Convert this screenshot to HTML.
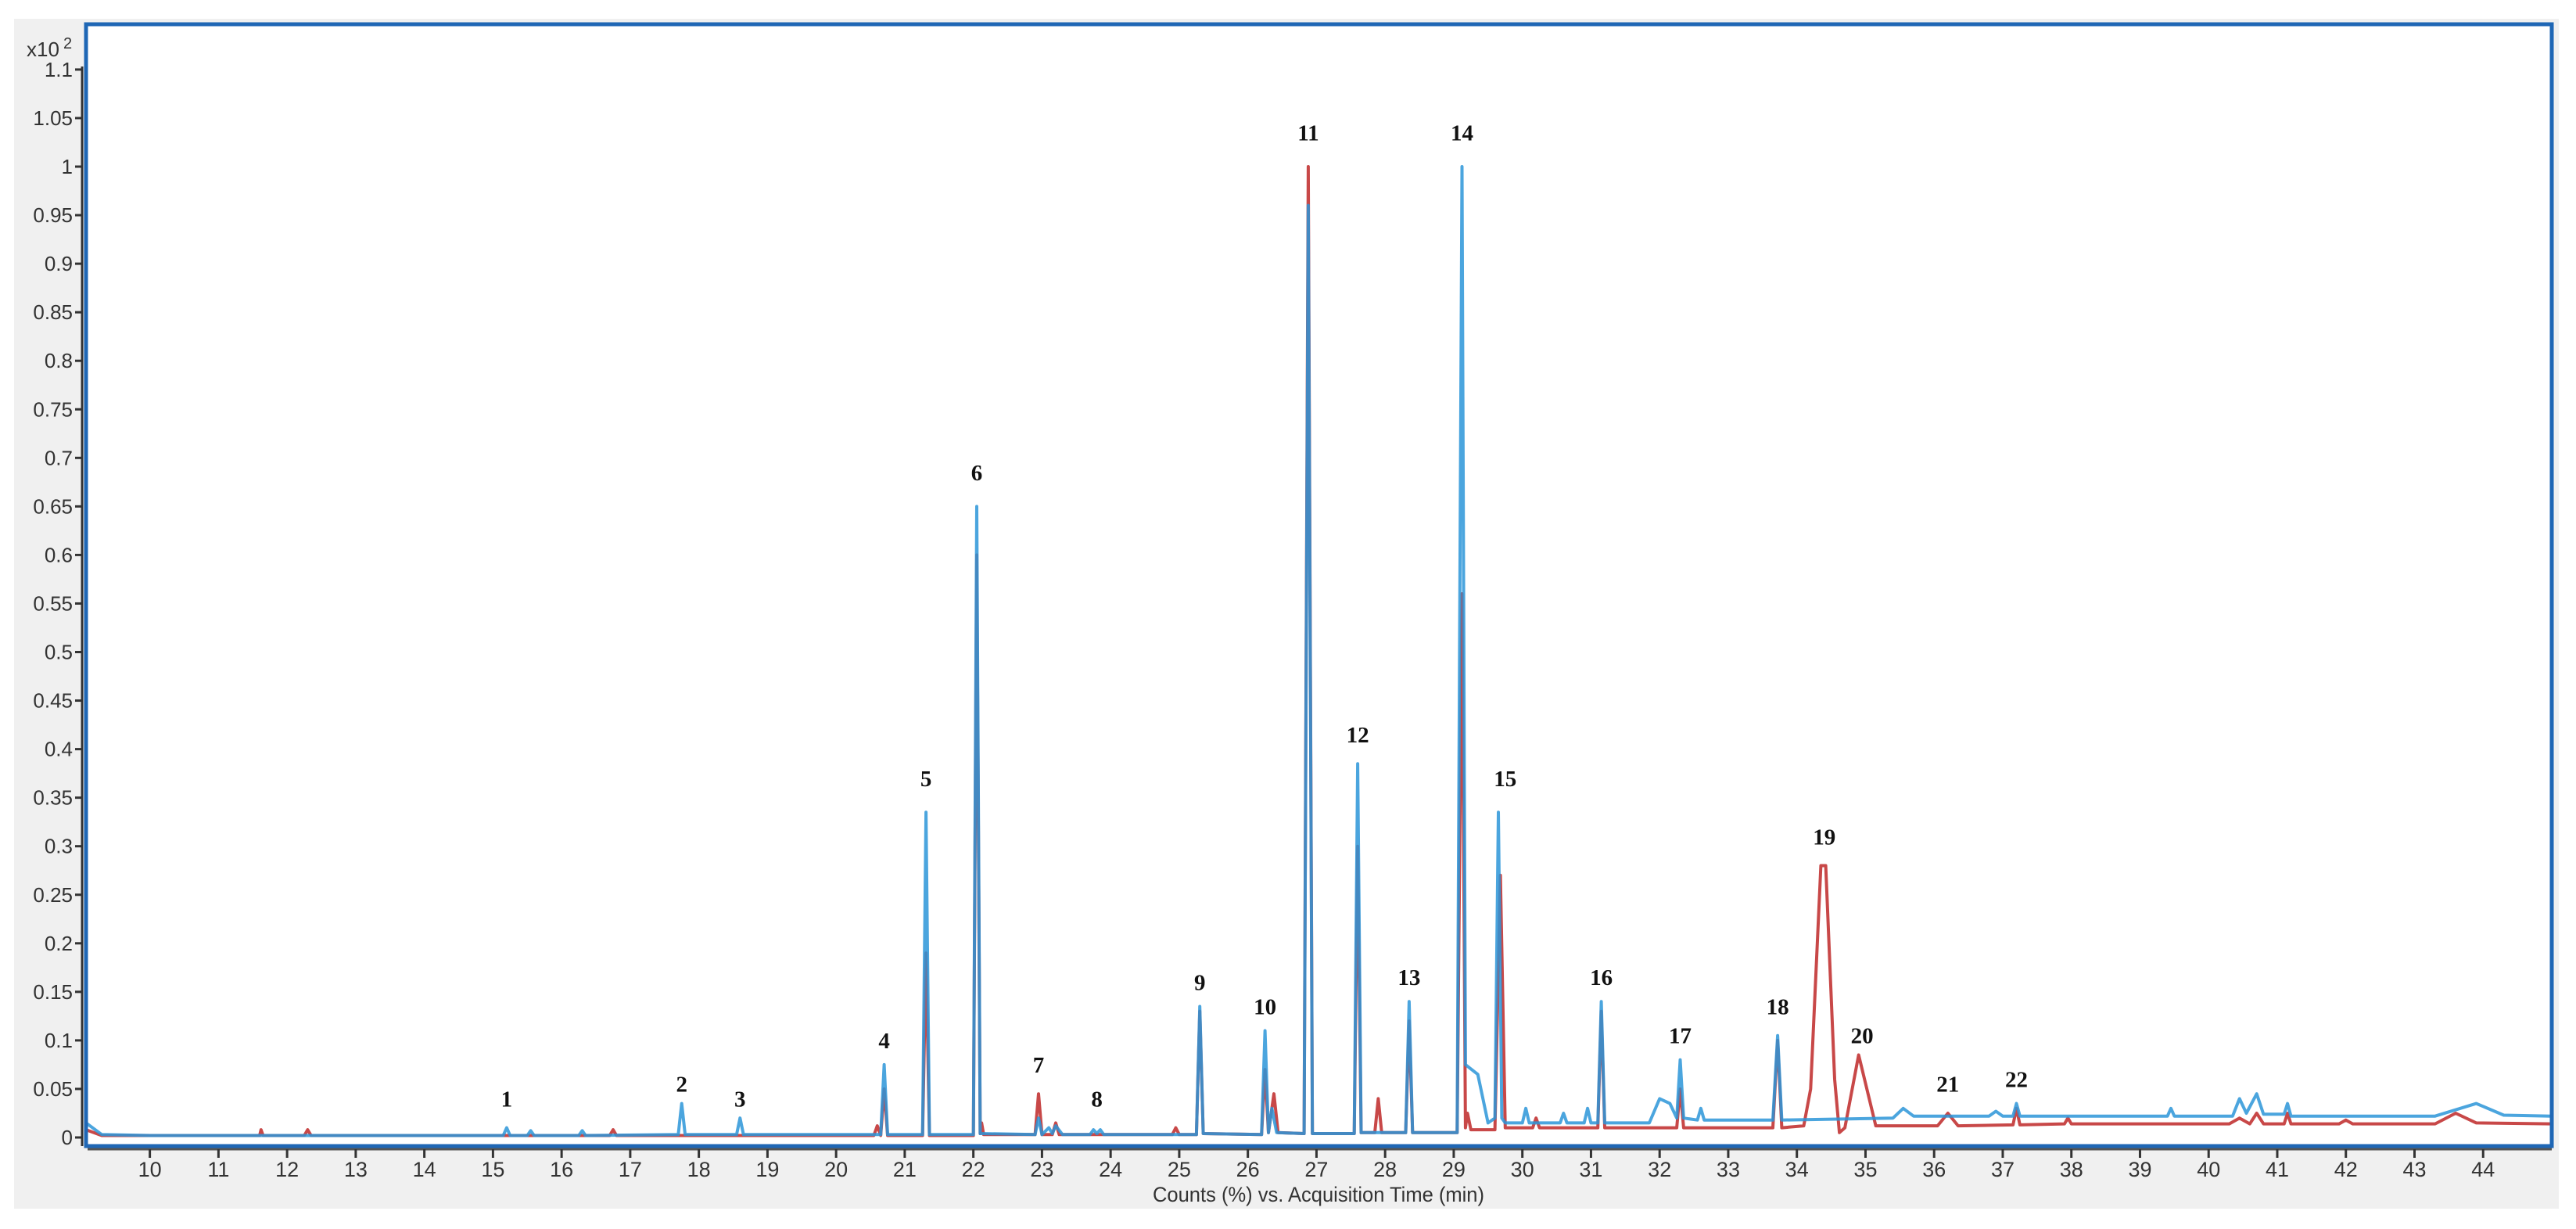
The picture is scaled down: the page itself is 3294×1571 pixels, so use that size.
<!DOCTYPE html>
<html><head><meta charset="utf-8"><style>
html,body{margin:0;padding:0;background:#fff;width:3294px;height:1571px;overflow:hidden}
svg{display:block}
</style></head><body>
<svg id="chart" width="3294" height="1571" viewBox="0 0 3294 1571" xmlns="http://www.w3.org/2000/svg">
<rect x="18" y="24" width="3254" height="1521" fill="#f0f0f0"/>
<rect x="110" y="31" width="3153" height="1434" fill="#fff"/>
<g id="grid"></g>
<g id="series"></g>
<rect x="110" y="31" width="3153" height="1434" fill="none" stroke="#1f67b5" stroke-width="5"/>
<line x1="112" y1="1469" x2="3263" y2="1469" stroke="#555" stroke-width="3"/>
<line x1="105" y1="85" x2="105" y2="1465" stroke="#333" stroke-width="3"/>
<g id="yticks"></g>
<g id="xticks"></g>
<g id="labels"></g>
<text x="34" y="72" font-family="Liberation Sans, sans-serif" font-size="26" fill="#333">x10</text>
<text x="81" y="62" font-family="Liberation Sans, sans-serif" font-size="20" fill="#333">2</text>
<text x="1686" y="1536" text-anchor="middle" font-family="Liberation Sans, sans-serif" font-size="27" fill="#333" textLength="424" lengthAdjust="spacingAndGlyphs">Counts (%) vs. Acquisition Time (min)</text>
</svg>
<script>
const yTickValues=[0,0.05,0.1,0.15,0.2,0.25,0.3,0.35,0.4,0.45,0.5,0.55,0.6,0.65,0.7,0.75,0.8,0.85,0.9,0.95,1,1.05,1.1];
const yTickLabels=["0","0.05","0.1","0.15","0.2","0.25","0.3","0.35","0.4","0.45","0.5","0.55","0.6","0.65","0.7","0.75","0.8","0.85","0.9","0.95","1","1.05","1.1"];
const xTickValues=[10,11,12,13,14,15,16,17,18,19,20,21,22,23,24,25,26,27,28,29,30,31,32,33,34,35,36,37,38,39,40,41,42,43,44];
const blueTimes=[9.07,9.3,10,15.15,15.2,15.25,15.5,15.55,15.6,16.25,16.3,16.35,17.7,17.75,17.8,18.55,18.6,18.65,20.65,20.7,20.75,21.26,21.31,21.36,22.0,22.05,22.1,22.9,22.95,23.0,23.1,23.15,23.2,23.3,23.7,23.75,23.8,23.85,23.9,25.25,25.3,25.35,26.2,26.25,26.3,26.35,26.42,26.82,26.88,26.94,27.55,27.6,27.65,28.3,28.35,28.4,29.05,29.12,29.17,29.35,29.5,29.6,29.65,29.7,29.75,30.0,30.05,30.1,30.55,30.6,30.65,30.9,30.95,31.0,31.1,31.15,31.2,31.85,32.0,32.15,32.25,32.3,32.35,32.55,32.6,32.65,33.65,33.72,33.78,35.4,35.55,35.7,36.8,36.9,37.0,37.15,37.2,37.25,39.4,39.45,39.5,40.35,40.45,40.55,40.7,40.8,41.1,41.15,41.2,43.3,43.9,44.3,45];
const blueValues=[0.015,0.003,0.002,0.002,0.01,0.002,0.002,0.007,0.002,0.002,0.007,0.002,0.003,0.035,0.003,0.003,0.02,0.003,0.003,0.075,0.003,0.003,0.335,0.003,0.003,0.65,0.004,0.003,0.02,0.003,0.01,0.004,0.012,0.003,0.003,0.008,0.004,0.008,0.003,0.003,0.135,0.004,0.003,0.11,0.005,0.03,0.005,0.004,0.96,0.004,0.004,0.385,0.005,0.005,0.14,0.005,0.005,1.0,0.075,0.065,0.015,0.02,0.335,0.02,0.015,0.015,0.03,0.015,0.015,0.025,0.015,0.015,0.03,0.015,0.015,0.14,0.015,0.015,0.04,0.035,0.02,0.08,0.02,0.018,0.03,0.018,0.018,0.105,0.018,0.02,0.03,0.022,0.022,0.027,0.022,0.022,0.035,0.022,0.022,0.03,0.022,0.022,0.04,0.025,0.045,0.024,0.024,0.035,0.022,0.022,0.035,0.023,0.022];
const redTimes=[9.07,9.3,11.6,11.62,11.65,12.25,12.3,12.35,16.7,16.75,16.8,20.55,20.6,20.65,20.7,20.75,21.26,21.31,21.36,22.0,22.05,22.1,22.12,22.15,22.9,22.95,23.0,23.15,23.2,23.25,24.9,24.95,25.0,25.25,25.3,25.35,26.2,26.25,26.3,26.38,26.44,26.82,26.88,26.94,27.55,27.6,27.65,27.85,27.9,27.95,28.3,28.35,28.4,29.05,29.12,29.17,29.2,29.25,29.6,29.68,29.75,30.15,30.2,30.25,31.1,31.15,31.2,32.25,32.3,32.35,33.65,33.72,33.78,34.1,34.2,34.35,34.42,34.55,34.62,34.7,34.9,35.15,36.05,36.2,36.35,37.15,37.2,37.25,37.9,37.95,38.0,40.3,40.45,40.6,40.7,40.8,41.1,41.15,41.2,41.9,42.0,42.1,43.3,43.6,43.9,45];
const redValues=[0.008,0.002,0.002,0.008,0.002,0.002,0.008,0.002,0.002,0.008,0.002,0.002,0.012,0.002,0.05,0.002,0.002,0.19,0.002,0.002,0.6,0.004,0.015,0.003,0.003,0.045,0.003,0.003,0.015,0.003,0.003,0.01,0.003,0.003,0.13,0.004,0.003,0.07,0.005,0.045,0.005,0.004,1.0,0.004,0.004,0.3,0.005,0.005,0.04,0.005,0.005,0.12,0.005,0.005,0.56,0.01,0.025,0.008,0.008,0.27,0.01,0.01,0.02,0.01,0.01,0.13,0.01,0.01,0.05,0.01,0.01,0.1,0.01,0.012,0.05,0.28,0.28,0.06,0.005,0.01,0.085,0.012,0.012,0.025,0.012,0.013,0.03,0.013,0.014,0.02,0.014,0.014,0.02,0.014,0.025,0.014,0.014,0.025,0.014,0.014,0.018,0.014,0.014,0.025,0.015,0.014];
const peakLabels=["1","2","3","4","5","6","7","8","9","10","11","12","13","14","15","16","17","18","19","20","21","22"];
const peakLabelTimes=[15.2,17.75,18.6,20.7,21.31,22.05,22.95,23.8,25.3,26.25,26.88,27.6,28.35,29.12,29.75,31.15,32.3,33.72,34.4,34.95,36.2,37.2];
const peakLabelValues=[0.04,0.055,0.04,0.1,0.37,0.685,0.075,0.04,0.16,0.135,1.035,0.415,0.165,1.035,0.37,0.165,0.105,0.135,0.31,0.105,0.055,0.06];

const NS="http://www.w3.org/2000/svg";
const X0=9.07,X1=45.0,PX0=110,PX1=3263;
const Y0px=1454,PXPERUNIT=1241;
function xs(t){return PX0+(t-X0)/(X1-X0)*(PX1-PX0);}
function ys(v){return Y0px-v*PXPERUNIT;}
function mk(tag,attrs,parent){const e=document.createElementNS(NS,tag);for(const k in attrs)e.setAttribute(k,attrs[k]);parent.appendChild(e);return e;}
const yg=document.getElementById('yticks');
yTickValues.forEach((v,i)=>{
  const ln=mk('line',{x1:96,x2:106,y1:ys(v),y2:ys(v),stroke:'#333','stroke-width':3},yg);
  
  
  const tx=mk('text',{x:93,y:ys(v)+9,'text-anchor':'end','font-family':'Liberation Sans, sans-serif','font-size':26,fill:'#333'},yg);
  tx.textContent=yTickLabels[i];
  
  
});
const xg=document.getElementById('xticks');
xTickValues.forEach(v=>{
  const ln=mk('line',{x1:xs(v),x2:xs(v),y1:1469,y2:1480,stroke:'#333','stroke-width':3},xg);
  
  
  const tx=mk('text',{x:xs(v),y:1504,'text-anchor':'middle','font-family':'Liberation Sans, sans-serif','font-size':27,fill:'#333'},xg);
  tx.textContent=String(v);
  
  
});
const sg=document.getElementById('series');
function drawLine(ts,vs,color,name,w,op){
  const pts=ts.map((t,i)=>xs(t).toFixed(1)+','+ys(vs[i]).toFixed(1)).join(' ');
  const pl=mk('polyline',{points:pts,fill:'none',stroke:color,'stroke-width':w,'stroke-linejoin':'round',opacity:op},sg);
  
  
}
drawLine(redTimes,redValues,'#c84848','red-trace',4,1);
drawLine(blueTimes,blueValues,'#2b95d8','blue-trace',4,0.85);
const lg=document.getElementById('labels');
peakLabels.forEach((s,i)=>{
  const tx=mk('text',{x:xs(peakLabelTimes[i]),y:ys(peakLabelValues[i])+10,'text-anchor':'middle','font-family':'Liberation Serif, serif','font-weight':'bold','font-size':29,fill:'#111'},lg);
  tx.textContent=s;
  
  
});
</script>
</body></html>
